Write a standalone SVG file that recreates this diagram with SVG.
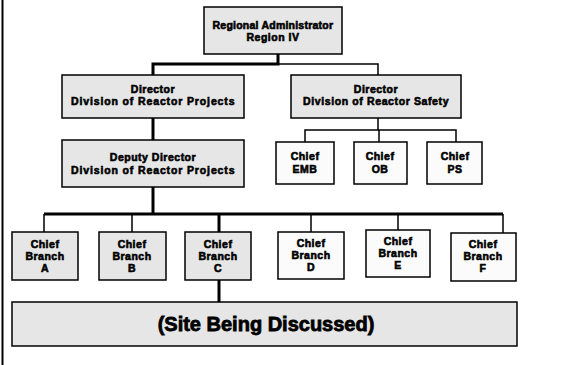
<svg xmlns="http://www.w3.org/2000/svg" width="563" height="365" viewBox="0 0 563 365">
<style>
.box{stroke:#000;stroke-width:1.5}
.g{fill:#e6e6e6}
.w{fill:#fbfbfb}
.t{font-family:"Liberation Sans",Arial,sans-serif;font-weight:bold;font-size:10.5px;text-anchor:middle;fill:#000;stroke:#000;stroke-width:0.6;letter-spacing:0.5px}
.big{font-size:20px;stroke-width:0.8;letter-spacing:0}
.thick{stroke:#000;stroke-width:3;fill:none}
.thin{stroke:#000;stroke-width:1.5;fill:none}
</style>
<rect width="563" height="365" fill="#fff"/>
<line x1="2.5" y1="0" x2="2.5" y2="365" stroke="#000" stroke-width="2"/>
<g id="connectors">
<path class="thick" d="M278 54V64H153V75"/>
<path class="thin" d="M278 64H378V75"/>
<path class="thick" d="M153 118V140"/>
<path class="thin" d="M378 118V130M305 142V130H456V142M379 130V142"/>
<path class="thick" d="M153 187V214M44 214H503"/>
<path class="thin" d="M44 214V232M132 214V232M311 214V232M398 214V230M503 214V233"/>
<path class="thick" d="M219 214V232M219 280V302"/>
</g>
<g id="regional-administrator"><rect class="box g" x="204" y="7" width="138" height="47"/><text class="t" x="273" y="29" textLength="121" lengthAdjust="spacing">Regional Administrator</text><text class="t" x="273" y="41">Region IV</text></g>
<g id="director-drp"><rect class="box g" x="62" y="75" width="182" height="43"/><text class="t" x="153" y="93">Director</text><text class="t" x="153" y="105" textLength="164" lengthAdjust="spacing">Division of Reactor Projects</text></g>
<g id="director-drs"><rect class="box g" x="291" y="75" width="170" height="43"/><text class="t" x="376" y="93">Director</text><text class="t" x="376" y="105" textLength="146" lengthAdjust="spacing">Division of Reactor Safety</text></g>
<g id="deputy-director"><rect class="box g" x="62" y="140" width="182" height="47"/><text class="t" x="153" y="161">Deputy Director</text><text class="t" x="153" y="174" textLength="164" lengthAdjust="spacing">Division of Reactor Projects</text></g>
<g id="chief-emb"><rect class="box w" x="276" y="142" width="58" height="42"/><text class="t" x="305" y="160">Chief</text><text class="t" x="305" y="173">EMB</text></g>
<g id="chief-ob"><rect class="box w" x="354" y="142" width="53" height="42"/><text class="t" x="380" y="160">Chief</text><text class="t" x="380" y="173">OB</text></g>
<g id="chief-ps"><rect class="box w" x="427" y="142" width="55" height="42"/><text class="t" x="455" y="160">Chief</text><text class="t" x="455" y="173">PS</text></g>
<g id="branch-a"><rect class="box g" x="12" y="232" width="66" height="48"/><text class="t" x="45" y="248">Chief</text><text class="t" x="45" y="260">Branch</text><text class="t" x="45" y="272">A</text></g>
<g id="branch-b"><rect class="box g" x="99" y="232" width="67" height="48"/><text class="t" x="132" y="248">Chief</text><text class="t" x="132" y="260">Branch</text><text class="t" x="132" y="272">B</text></g>
<g id="branch-c"><rect class="box g" x="185" y="232" width="66" height="48"/><text class="t" x="218" y="248">Chief</text><text class="t" x="218" y="260">Branch</text><text class="t" x="218" y="272">C</text></g>
<g id="branch-d"><rect class="box w" x="278" y="232" width="66" height="47"/><text class="t" x="311" y="247">Chief</text><text class="t" x="311" y="259">Branch</text><text class="t" x="311" y="271">D</text></g>
<g id="branch-e"><rect class="box w" x="366" y="230" width="64" height="47"/><text class="t" x="398" y="245">Chief</text><text class="t" x="398" y="257">Branch</text><text class="t" x="398" y="269">E</text></g>
<g id="branch-f"><rect class="box w" x="451" y="233" width="65" height="48"/><text class="t" x="483" y="248">Chief</text><text class="t" x="483" y="260">Branch</text><text class="t" x="483" y="272">F</text></g>
<g id="site"><rect class="box g" x="12" y="302" width="505" height="44"/><text class="t big" x="266" y="331">(Site Being Discussed)</text></g>
</svg>
